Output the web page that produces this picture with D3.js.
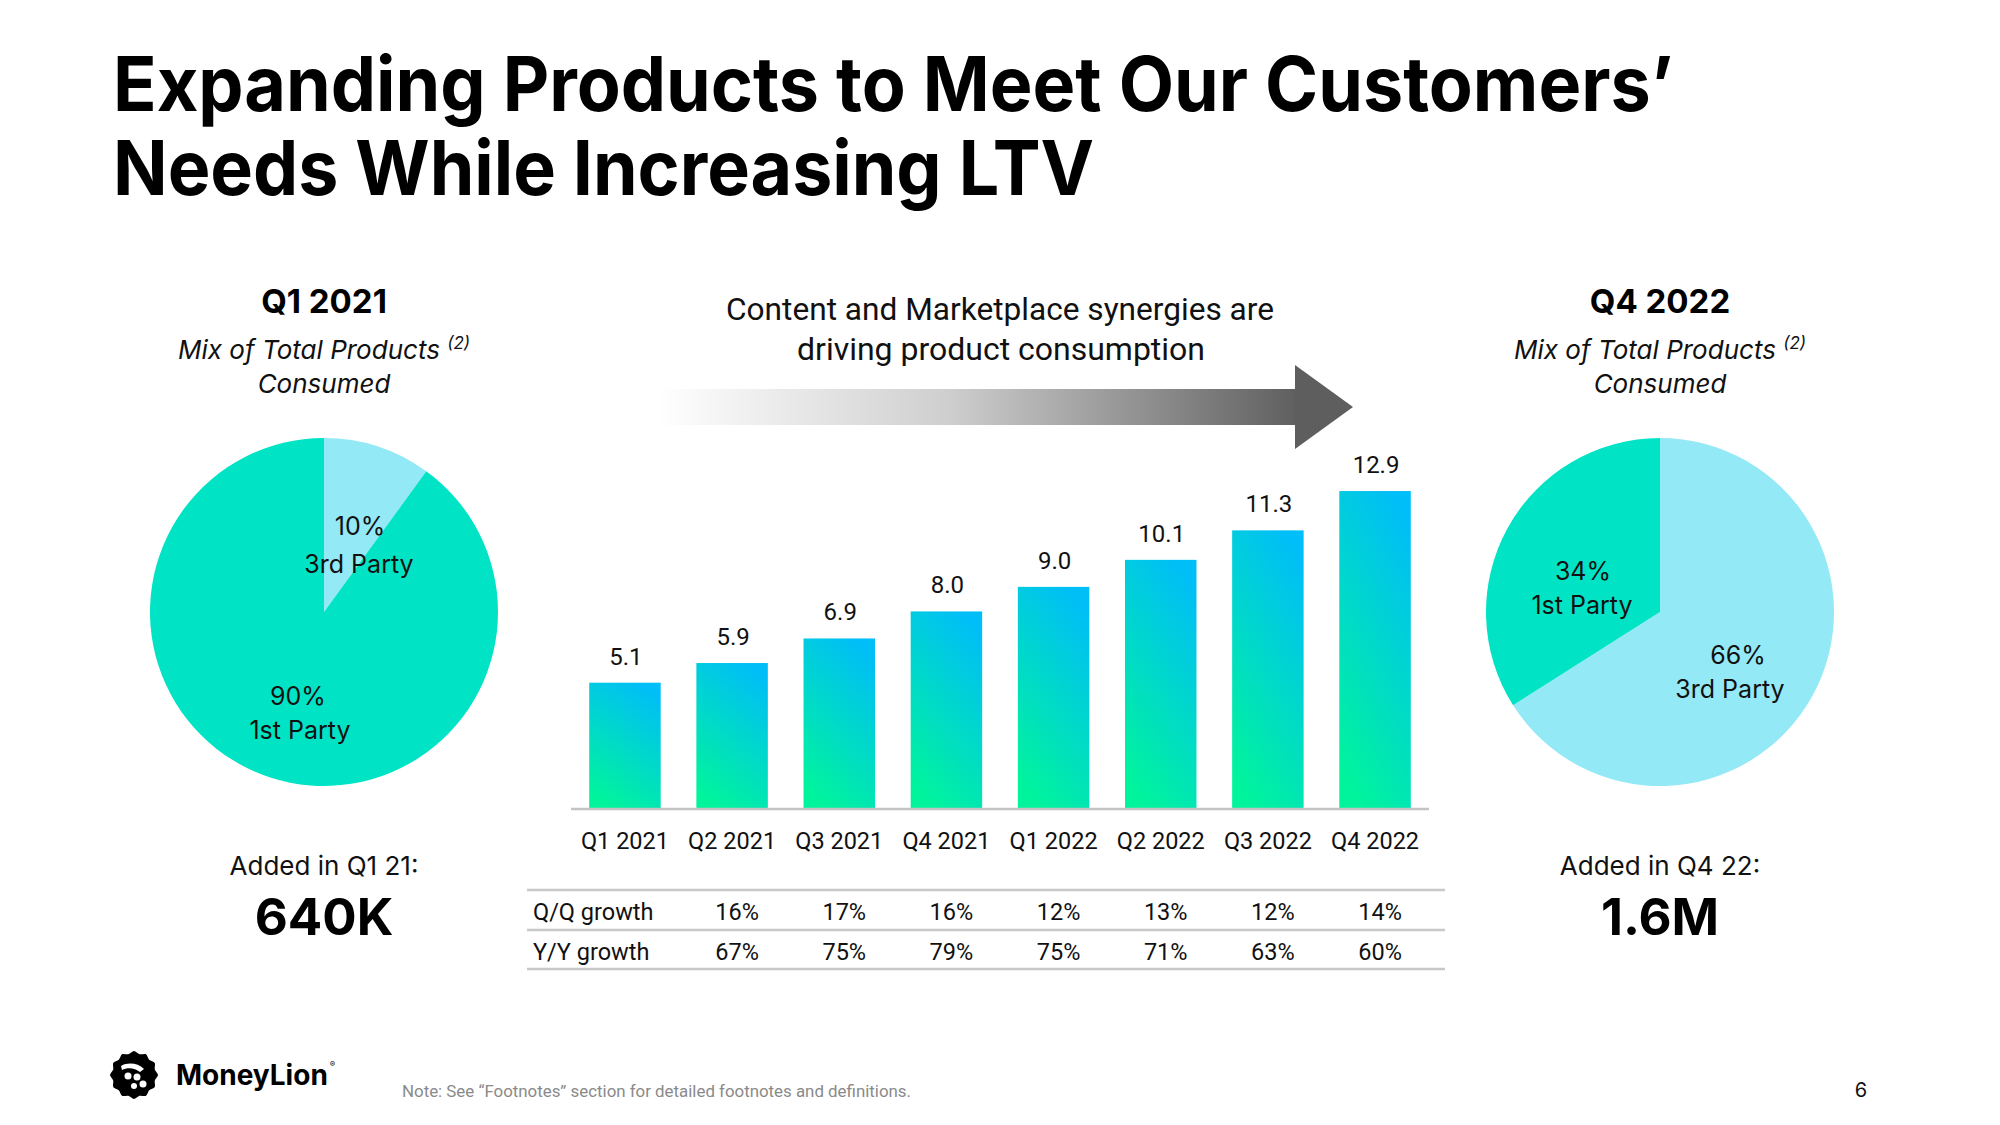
<!DOCTYPE html>
<html><head><meta charset="utf-8">
<script src="https://cdn.jsdelivr.net/npm/d3@7"></script>
<style>
html,body{margin:0;padding:0;background:#fff;}
svg{display:block;}
</style></head>
<body>
<svg id="c" width="2000" height="1125"></svg>
<script>
// ---------- data ----------
const categories = ["Q1 2021","Q2 2021","Q3 2021","Q4 2021","Q1 2022","Q2 2022","Q3 2022","Q4 2022"];
const productsPerUser = [5.1,5.9,6.9,8.0,9.0,10.1,11.3,12.9];
const qqGrowth = ["16%","17%","16%","12%","13%","12%","14%"];
const yyGrowth = ["67%","75%","79%","75%","71%","63%","60%"];
const growthQuarters = categories.slice(1);
const pieLabels = ["3rd Party","1st Party"];
const pieQ1_2021 = [10,90];
const pieQ4_2022 = [66,34];

const svg = d3.select("#c");
const FONT = "Inter, 'Noto Sans', sans-serif";
const NUMF = "Roboto, 'Noto Sans', sans-serif";

const defs = svg.append("defs");
const bg = defs.append("linearGradient").attr("id","barG")
  .attr("x1","0.7").attr("y1","0").attr("x2","0.3").attr("y2","1");
bg.append("stop").attr("offset","0").attr("stop-color","#00BEF7");
bg.append("stop").attr("offset","1").attr("stop-color","#00F49C");
const ag = defs.append("linearGradient").attr("id","arrG")
  .attr("gradientUnits","userSpaceOnUse").attr("x1",657).attr("x2",1300).attr("y1",0).attr("y2",0);
ag.append("stop").attr("offset","0").attr("stop-color","#ffffff");
ag.append("stop").attr("offset","0.45").attr("stop-color","#cfcfcf");
ag.append("stop").attr("offset","1").attr("stop-color","#5e5e5e");

// ---------- title ----------
const title = svg.append("g").attr("font-family",FONT).attr("font-weight",700).attr("fill","#000");
title.append("text").attr("x",113).attr("y",111).attr("font-size",76)
  .attr("textLength",1560).attr("lengthAdjust","spacingAndGlyphs")
  .text("Expanding Products to Meet Our Customers\u2019");
title.append("text").attr("x",113).attr("y",195).attr("font-size",76)
  .attr("textLength",981).attr("lengthAdjust","spacingAndGlyphs")
  .text("Needs While Increasing LTV");

// ---------- pies ----------
const pieColors = d3.scaleOrdinal().domain(pieLabels).range(["#94E9F6","#00E4C5"]);
const pie = d3.pie().sort(null).value(d=>d.v);
const arc = d3.arc().innerRadius(0).outerRadius(174);

function drawPie(cx, header, values, added, addedVal, labels){
  const g = svg.append("g").attr("font-family",FONT);
  g.append("text").attr("x",cx).attr("y",313).attr("text-anchor","middle")
    .attr("font-size",33).attr("font-weight",700).text(header);
  const sub = g.append("text").attr("x",cx).attr("y",359).attr("text-anchor","middle")
    .attr("font-size",26).attr("font-style","italic").attr("fill","#111");
  sub.append("tspan").text("Mix of Total Products ");
  sub.append("tspan").attr("font-size",17).attr("dy",-10).text("(2)");
  g.append("text").attr("x",cx).attr("y",393).attr("text-anchor","middle")
    .attr("font-size",26).attr("font-style","italic").attr("fill","#111").text("Consumed");
  const data = pieLabels.map((l,i)=>({label:l,v:values[i]}));
  g.append("g").attr("transform",`translate(${cx},612)`)
    .selectAll("path").data(pie(data)).join("path")
    .attr("d",arc).attr("fill",d=>pieColors(d.data.label));
  labels.forEach(L=>{
    g.append("text").attr("x",L.x).attr("y",L.y).attr("text-anchor","middle")
      .attr("font-size",25).attr("fill","#111").text(L.t);
  });
  g.append("text").attr("x",cx).attr("y",875).attr("text-anchor","middle")
    .attr("font-size",26).attr("fill","#111").text(added);
  g.append("text").attr("x",cx).attr("y",935).attr("text-anchor","middle")
    .attr("font-size",51).attr("font-weight",700).attr("fill","#000").text(addedVal);
}
drawPie(324,"Q1 2021",pieQ1_2021,"Added in Q1 21:","640K",[
  {x:360,y:535,t:pieQ1_2021[0]+"%"},{x:359,y:573,t:pieLabels[0]},
  {x:298,y:705,t:pieQ1_2021[1]+"%"},{x:300,y:739,t:pieLabels[1]}]);
drawPie(1660,"Q4 2022",pieQ4_2022,"Added in Q4 22:","1.6M",[
  {x:1583,y:580,t:pieQ4_2022[1]+"%"},{x:1582,y:614,t:pieLabels[1]},
  {x:1738,y:664,t:pieQ4_2022[0]+"%"},{x:1730,y:698,t:pieLabels[0]}]);

// ---------- arrow ----------
const ar = svg.append("g");
ar.append("rect").attr("x",657).attr("y",389).attr("width",640).attr("height",36).attr("fill","url(#arrG)");
ar.append("path").attr("d","M1295,365 L1353,407 L1295,449 Z").attr("fill","#5e5e5e");
const at = svg.append("g").attr("font-family",NUMF).attr("font-size",32).attr("fill","#111").attr("text-anchor","middle");
at.append("text").attr("x",1000).attr("y",320).attr("textLength",548).attr("lengthAdjust","spacingAndGlyphs")
  .text("Content and Marketplace synergies are");
at.append("text").attr("x",1001).attr("y",360).attr("textLength",408).attr("lengthAdjust","spacingAndGlyphs")
  .text("driving product consumption");

// ---------- bar chart ----------
const x = d3.scaleBand().domain(categories).range([571,1429]).paddingInner(0.333).paddingOuter(0.17);
const y = d3.scaleLinear().domain([0,13]).range([808, 808-24.57*13]);

const bars = svg.append("g");
bars.selectAll("rect").data(productsPerUser).join("rect")
  .attr("x",(d,i)=>x(categories[i])).attr("width",x.bandwidth())
  .attr("y",d=>y(d)).attr("height",d=>y(0)-y(d)).attr("fill","url(#barG)");
bars.selectAll("text").data(productsPerUser).join("text")
  .attr("x",(d,i)=>x(categories[i])+x.bandwidth()/2+1).attr("y",d=>y(d)-18)
  .attr("text-anchor","middle").attr("font-family",NUMF).attr("font-size",24).attr("fill","#111")
  .text(d=>d.toFixed(1));

const xAxis = svg.append("g").attr("transform",`translate(0,${y(0)})`)
  .call(d3.axisBottom(x).tickSize(0).tickPadding(24));
xAxis.select(".domain").attr("stroke","#c4c4c4").attr("stroke-width",2.5)
  .attr("d","M571,1H1429");
xAxis.selectAll(".tick text").attr("font-family",NUMF).attr("font-size",23.5).attr("fill","#111");

// ---------- growth table ----------
const tbl = svg.append("g").attr("font-family",NUMF).attr("font-size",23.5).attr("fill","#111");
[890,930,969].forEach(yy=>tbl.append("line").attr("x1",527).attr("x2",1445).attr("y1",yy).attr("y2",yy)
  .attr("stroke","#c8c8c8").attr("stroke-width",2.5));
tbl.append("text").attr("x",533).attr("y",920).text("Q/Q growth");
tbl.append("text").attr("x",533).attr("y",960).text("Y/Y growth");
tbl.selectAll("text.qq").data(qqGrowth).join("text").attr("class","qq")
  .attr("x",(d,i)=>x(growthQuarters[i])+x.bandwidth()/2+5).attr("y",920).attr("text-anchor","middle").text(d=>d);
tbl.selectAll("text.yy").data(yyGrowth).join("text").attr("class","yy")
  .attr("x",(d,i)=>x(growthQuarters[i])+x.bandwidth()/2+5).attr("y",960).attr("text-anchor","middle").text(d=>d);

// ---------- footer ----------
const logo = svg.append("g").attr("transform","translate(134,1075)");
const n = 12, R = 24, r2 = 21.5;
let pts = [];
for(let i=0;i<n*2;i++){const a=i*Math.PI/n; const rr = i%2?r2:R; pts.push([Math.sin(a)*rr, -Math.cos(a)*rr]);}
logo.append("path").attr("d",d3.line().curve(d3.curveCardinalClosed.tension(0.2))(pts)).attr("fill","#000");
logo.append("path").attr("d","M-13,-9 C-6,-13 4,-12 10,-6 L6,-3 C1,-7 -6,-8 -12,-5 Z").attr("fill","#fff");
logo.append("circle").attr("cx",-6).attr("cy",1).attr("r",3.5).attr("fill","#fff");
logo.append("circle").attr("cx",3).attr("cy",2).attr("r",3.5).attr("fill","#fff");
logo.append("circle").attr("cx",9).attr("cy",9).attr("r",3.5).attr("fill","#fff");
logo.append("circle").attr("cx",0).attr("cy",11).attr("r",3).attr("fill","#fff");
const brand = svg.append("text").attr("x",176).attr("y",1085).attr("font-family",FONT).attr("font-weight",700)
  .attr("font-size",28).attr("fill","#000");
brand.append("tspan").text("MoneyLion");
brand.append("tspan").attr("font-size",8).attr("font-weight",400).attr("dy",-18).attr("dx",2).text("\u00AE");
svg.append("text").attr("x",402).attr("y",1097).attr("font-family",NUMF).attr("font-size",16).attr("fill","#8a8a8a")
  .attr("textLength",509).attr("lengthAdjust","spacingAndGlyphs")
  .text("Note: See \u201CFootnotes\u201D section for detailed footnotes and definitions.");
svg.append("text").attr("x",1861).attr("y",1097).attr("text-anchor","middle").attr("font-family",FONT)
  .attr("font-size",20).attr("fill","#111").text("6");
</script>
</body></html>
